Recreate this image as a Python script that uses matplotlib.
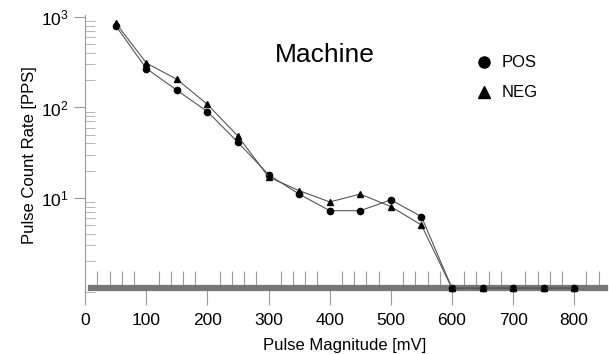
import matplotlib
matplotlib.use("Agg")
import matplotlib.pyplot as plt
from matplotlib.ticker import MultipleLocator, LogLocator, NullFormatter, FixedLocator, FixedFormatter

plt.rcParams['font.family'] = ['Liberation Sans', 'DejaVu Sans']

# pulse magnitude [mV]
magnitude = [50, 100, 150, 200, 250, 300, 350, 400, 450, 500, 550, 600, 650, 700, 750, 800]
# pulse count rate [PPS]
pos_rate = [800, 270, 155, 90, 41, 18, 11, 7.2, 7.2, 9.5, 6.2, 1, 1, 1, 1, 1]
neg_rate = [860, 310, 205, 108, 48, 17, 12, 9, 11, 8, 5, 1, 1, 1, 1, 1]

ytick_vals = [10, 100, 1000]
ytick_text = ['$\\mathregular{10^{1}}$', '$\\mathregular{10^{2}}$', '$\\mathregular{10^{3}}$']
xtick_vals = [0, 100, 200, 300, 400, 500, 600, 700, 800]

fig = plt.figure(figsize=(6.09, 3.54), dpi=100)
ax = fig.add_axes([0.14, 0.168, 0.853, 0.789])

ax.plot(magnitude, pos_rate, color='#555555', lw=0.8, marker='o', ms=4.5,
        mfc='black', mec='black', zorder=3)
ax.plot(magnitude, neg_rate, color='#555555', lw=0.8, marker='^', ms=5,
        mfc='black', mec='black', zorder=3)

ax.set_yscale('log')
ax.set_xlim(0, 850)
ax.set_ylim(0.85, 1050)

ax.spines['top'].set_visible(False)
ax.spines['right'].set_visible(False)
ax.spines['left'].set_color('#999999')
ax.spines['bottom'].set_position(('data', 1))
ax.spines['bottom'].set_color('#777777')
ax.spines['bottom'].set_linewidth(4.5)
ax.spines['bottom'].set_bounds(10, 850)

ax.yaxis.set_major_locator(FixedLocator(ytick_vals))
ax.yaxis.set_major_formatter(FixedFormatter(ytick_text))
ax.yaxis.set_minor_locator(LogLocator(base=10, subs=range(2, 10)))
ax.yaxis.set_minor_formatter(NullFormatter())
ax.tick_params(axis='y', which='major', direction='out', length=8, color='#999999',
               labelsize=12.5, pad=4)
ax.tick_params(axis='y', which='minor', direction='in', length=7, color='#aaaaaa')

ax.set_xticks(xtick_vals)
ax.xaxis.set_minor_locator(MultipleLocator(20))
ax.tick_params(axis='x', which='major', direction='out', length=12, color='#999999',
               labelsize=12.5, pad=6)
ax.tick_params(axis='x', which='minor', direction='in', length=12, color='#999999', width=0.8)

ax.set_xlabel('Pulse Magnitude [mV]', fontsize=12, labelpad=7)
ax.set_ylabel('Pulse Count Rate [PPS]', fontsize=12, labelpad=3)

ax.text(392, 380, 'Machine', fontsize=19, ha='center', va='center')

ax.plot([652], [316], marker='o', color='black', ms=8, ls='none', clip_on=False)
ax.text(682, 316, 'POS', fontsize=12, va='center')
ax.plot([652], [147], marker='^', color='black', ms=8, ls='none', clip_on=False)
ax.text(682, 147, 'NEG', fontsize=12, va='center')

fig.savefig('out.png', dpi=100)
